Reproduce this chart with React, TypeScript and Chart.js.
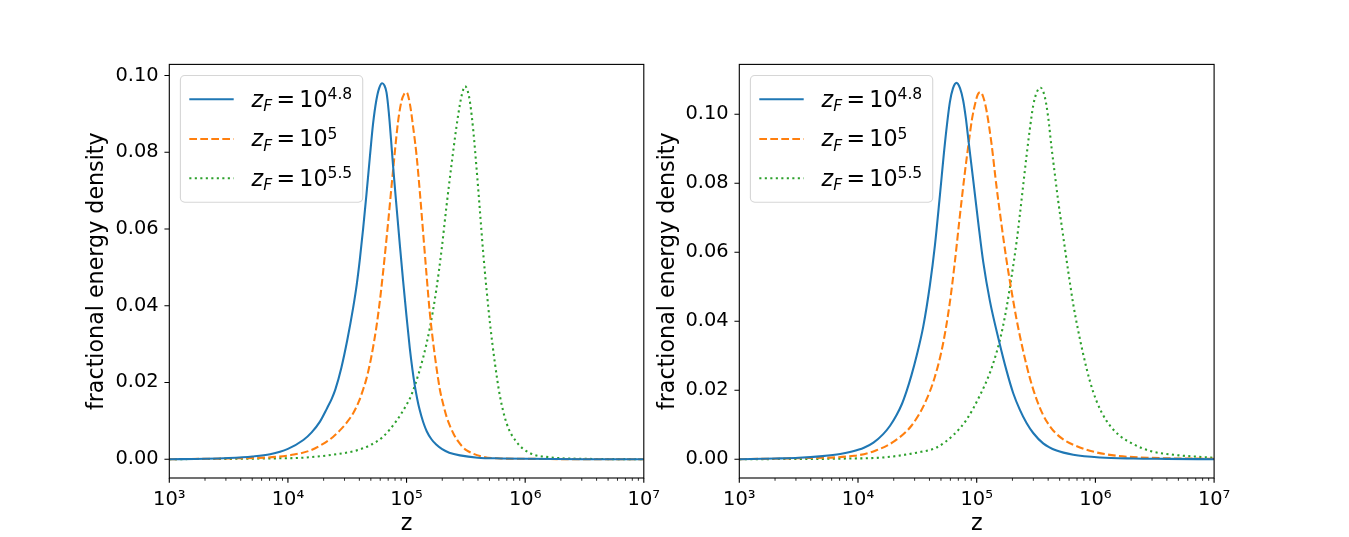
import React, { useEffect, useRef } from 'react';
import { Chart, registerables } from 'chart.js';

Chart.register(...registerables);

// ---------------- data ----------------
// x values are log10(z); y values are fractional energy density

// left panel
const leftBlueLogZ = [3.0, 3.3, 3.5, 3.7, 3.85, 4.0, 4.13, 4.2, 4.27, 4.33, 4.37, 4.4, 4.45, 4.5, 4.55, 4.58, 4.606, 4.634, 4.662, 4.69, 4.718, 4.745, 4.77, 4.795, 4.812, 4.831, 4.85, 4.87, 4.887, 4.915, 4.943, 4.971, 4.999, 5.027, 5.05, 5.069, 5.09, 5.111, 5.14, 5.17, 5.21, 5.25, 5.3, 5.36, 5.45, 5.6, 5.8, 6.0, 6.5, 7.0];
const leftBlueY = [0.0, 0.0001, 0.0003, 0.0007, 0.0013, 0.0027, 0.005, 0.007, 0.0098, 0.0133, 0.0158, 0.0182, 0.0238, 0.031, 0.0395, 0.0455, 0.052, 0.0601, 0.069, 0.0785, 0.0875, 0.0935, 0.0968, 0.098, 0.0975, 0.0956, 0.0905, 0.083, 0.0762, 0.066, 0.056, 0.0465, 0.0375, 0.029, 0.0233, 0.0193, 0.0157, 0.0128, 0.0097, 0.0073, 0.0052, 0.0038, 0.0026, 0.0017, 0.001, 0.0004, 0.0002, 0.0001, 0.0, 0.0];

const leftOrangeLogZ = [3.0, 3.5, 3.9, 4.05, 4.19, 4.28, 4.38, 4.45, 4.5, 4.55, 4.6, 4.63, 4.662, 4.7, 4.746, 4.774, 4.802, 4.844, 4.887, 4.929, 4.957, 4.98, 5.0, 5.027, 5.058, 5.085, 5.111, 5.14, 5.17, 5.195, 5.22, 5.254, 5.28, 5.31, 5.34, 5.364, 5.4, 5.434, 5.47, 5.507, 5.65, 5.79, 6.0, 6.5, 7.0];
const leftOrangeY = [0.0, 0.0002, 0.0006, 0.0012, 0.0023, 0.0037, 0.0058, 0.0079, 0.0097, 0.012, 0.0152, 0.0178, 0.021, 0.0262, 0.0345, 0.041, 0.0487, 0.0615, 0.0755, 0.0881, 0.0933, 0.0952, 0.0956, 0.0928, 0.086, 0.079, 0.07, 0.059, 0.0475, 0.0385, 0.0315, 0.0235, 0.0183, 0.0142, 0.0108, 0.0088, 0.0064, 0.0047, 0.0033, 0.0023, 0.0006, 0.0002, 0.0001, 0.0, 0.0];

const leftGreenLogZ = [3.0, 3.85, 4.13, 4.41, 4.58, 4.69, 4.8, 4.915, 5.0, 5.035, 5.07, 5.14, 5.195, 5.25, 5.295, 5.335, 5.378, 5.42, 5.45, 5.47, 5.493, 5.515, 5.535, 5.563, 5.591, 5.619, 5.647, 5.675, 5.703, 5.745, 5.787, 5.844, 5.927, 6.04, 6.21, 6.5, 7.0];
const leftGreenY = [0.0, 0.0002, 0.0004, 0.0013, 0.0023, 0.0036, 0.0058, 0.01, 0.0142, 0.0163, 0.0192, 0.0265, 0.034, 0.044, 0.0545, 0.0655, 0.0765, 0.0865, 0.0925, 0.0955, 0.0972, 0.096, 0.093, 0.0855, 0.0755, 0.0645, 0.0535, 0.044, 0.0355, 0.025, 0.0165, 0.0093, 0.0045, 0.0016, 0.0005, 0.0001, 0.0];

// right panel
const rightBlueLogZ = [3.0, 3.3, 3.5, 3.7, 3.85, 3.95, 4.05, 4.13, 4.21, 4.27, 4.325, 4.37, 4.41, 4.45, 4.494, 4.55, 4.606, 4.648, 4.69, 4.732, 4.774, 4.8, 4.83, 4.86, 4.886, 4.908, 4.932, 4.971, 5.013, 5.055, 5.111, 5.19, 5.252, 5.307, 5.364, 5.42, 5.476, 5.56, 5.673, 5.813, 6.04, 6.32, 6.6, 7.0];
const rightBlueY = [0.0, 0.0002, 0.0004, 0.0009, 0.0015, 0.0022, 0.0033, 0.0048, 0.0072, 0.0097, 0.0128, 0.016, 0.0198, 0.0243, 0.03, 0.0385, 0.0505, 0.062, 0.0765, 0.0915, 0.1035, 0.1075, 0.1091, 0.1075, 0.104, 0.099, 0.092, 0.0808, 0.0686, 0.0572, 0.0459, 0.034, 0.0256, 0.0192, 0.0143, 0.0105, 0.0076, 0.0046, 0.0025, 0.0013, 0.0005, 0.0002, 0.0001, 0.0];

const rightOrangeLogZ = [3.0, 3.5, 3.97, 4.14, 4.31, 4.45, 4.56, 4.646, 4.716, 4.772, 4.814, 4.857, 4.899, 4.932, 4.96, 4.99, 5.01, 5.03, 5.055, 5.083, 5.125, 5.167, 5.209, 5.252, 5.285, 5.336, 5.392, 5.448, 5.5, 5.56, 5.62, 5.673, 5.74, 5.813, 5.98, 6.18, 6.46, 7.0];
const rightOrangeY = [0.0, 0.0003, 0.001, 0.0024, 0.0053, 0.0097, 0.016, 0.0237, 0.0334, 0.045, 0.0566, 0.0702, 0.0827, 0.0916, 0.0985, 0.1035, 0.1058, 0.1064, 0.105, 0.101, 0.0914, 0.079, 0.068, 0.0575, 0.0505, 0.0405, 0.0313, 0.0235, 0.0178, 0.0128, 0.0094, 0.0073, 0.0055, 0.0042, 0.0022, 0.001, 0.0004, 0.0001];

const rightGreenLogZ = [3.0, 3.93, 4.21, 4.494, 4.662, 4.803, 4.915, 5.027, 5.111, 5.15, 5.19, 5.22, 5.252, 5.294, 5.336, 5.364, 5.392, 5.42, 5.448, 5.476, 5.504, 5.538, 5.574, 5.602, 5.63, 5.658, 5.686, 5.714, 5.742, 5.77, 5.813, 5.855, 5.897, 5.953, 6.009, 6.094, 6.206, 6.318, 6.459, 6.655, 7.0];
const rightGreenY = [0.0, 0.0002, 0.0005, 0.0019, 0.0034, 0.007, 0.0115, 0.0185, 0.025, 0.029, 0.0338, 0.0383, 0.044, 0.053, 0.063, 0.071, 0.0795, 0.088, 0.0958, 0.1025, 0.1062, 0.1077, 0.105, 0.0992, 0.0905, 0.0827, 0.075, 0.0682, 0.0614, 0.0547, 0.045, 0.0373, 0.0305, 0.0227, 0.0169, 0.0111, 0.0068, 0.0044, 0.0024, 0.0013, 0.0004];

// legend / series
const seriesExponents = ['4.8', '5', '5.5'];
const seriesColors = ['#1f77b4', '#ff7f0e', '#2ca02c'];
const seriesDashes: number[][] = [[], [7.7, 3.3], [2.1, 3.4]];

// axes
const xTickValues = [1e3, 1e4, 1e5, 1e6, 1e7];
const xTickLabels = ['10³', '10⁴', '10⁵', '10⁶', '10⁷'];
const xMinorMultipliers = [2, 3, 4, 5, 6, 7, 8, 9];
const yTickValues = [0, 0.02, 0.04, 0.06, 0.08, 0.1];
const leftYRange = [-0.0049, 0.1029];
const rightYRange = [-0.00545, 0.11445];
const xLabel = 'z';
const yLabel = 'fractional energy density';

// ---------------- layout / style constants ----------------
const FONT = '"DejaVu Sans", "Liberation Sans", sans-serif';
const FIG_W = 1349;
const FIG_H = 537;
const AX_TOP = 64.4;
const AX_BOTTOM = 478;
const PANELS = [
  { left: 169.3, right: 643.8, yTitleX: 97.5 },
  { left: 739.3, right: 1214.1, yTitleX: 667.8 },
];
const TICK_FS = 19.4;
const LABEL_FS = 22.2;
const LEGEND_FS = 22.2;
const LEGEND_ROW_Y = [23.8, 63.5, 102.8];

const leftSeries = [
  { logZ: leftBlueLogZ, y: leftBlueY },
  { logZ: leftOrangeLogZ, y: leftOrangeY },
  { logZ: leftGreenLogZ, y: leftGreenY },
];
const rightSeries = [
  { logZ: rightBlueLogZ, y: rightBlueY },
  { logZ: rightOrangeLogZ, y: rightOrangeY },
  { logZ: rightGreenLogZ, y: rightGreenY },
];

function toPoints(logZ: number[], ys: number[]) {
  return logZ.map((lz, i) => ({ x: Math.pow(10, lz), y: ys[i] }));
}

const axesDecor = {
  id: 'axesDecor',
  afterDatasetsDraw(chart: any) {
    const { ctx, chartArea: ca, scales } = chart;
    const xs = scales.x;
    const ys = scales.y;
    ctx.save();
    ctx.strokeStyle = '#000';
    ctx.setLineDash([]);
    // major ticks
    ctx.lineWidth = 1.11;
    ctx.beginPath();
    for (const v of xTickValues) {
      const px = xs.getPixelForValue(v);
      ctx.moveTo(px, ca.bottom);
      ctx.lineTo(px, ca.bottom + 4.86);
    }
    for (const v of yTickValues) {
      const py = ys.getPixelForValue(v);
      ctx.moveTo(ca.left, py);
      ctx.lineTo(ca.left - 4.86, py);
    }
    ctx.stroke();
    // minor ticks (log axis)
    ctx.lineWidth = 0.83;
    ctx.beginPath();
    for (let d = 0; d < xTickValues.length - 1; d++) {
      for (const k of xMinorMultipliers) {
        const px = xs.getPixelForValue(k * xTickValues[d]);
        ctx.moveTo(px, ca.bottom);
        ctx.lineTo(px, ca.bottom + 2.78);
      }
    }
    ctx.stroke();
    // frame
    ctx.lineWidth = 1.11;
    ctx.strokeRect(ca.left, ca.top, ca.right - ca.left, ca.bottom - ca.top);
    ctx.restore();
  },
};

function roundRectPath(ctx: CanvasRenderingContext2D, x: number, y: number, w: number, h: number, r: number) {
  ctx.beginPath();
  ctx.moveTo(x + r, y);
  ctx.lineTo(x + w - r, y);
  ctx.arcTo(x + w, y, x + w, y + r, r);
  ctx.lineTo(x + w, y + h - r);
  ctx.arcTo(x + w, y + h, x + w - r, y + h, r);
  ctx.lineTo(x + r, y + h);
  ctx.arcTo(x, y + h, x, y + h - r, r);
  ctx.lineTo(x, y + r);
  ctx.arcTo(x, y, x + r, y, r);
  ctx.closePath();
}

const mathLegend = {
  id: 'mathLegend',
  afterDraw(chart: any) {
    const { ctx, chartArea: ca } = chart;
    const fs = LEGEND_FS;
    const ss = fs * 0.7;
    const mainFont = `${fs}px ${FONT}`;
    const italFont = `italic ${fs}px ${FONT}`;
    const subFont = `italic ${ss}px ${FONT}`;
    const supFont = `${ss}px ${FONT}`;
    ctx.save();
    const measure = (f: string, t: string) => {
      ctx.font = f;
      return ctx.measureText(t).width;
    };
    const wz = measure(italFont, 'z');
    const wF = measure(subFont, 'F');
    const wEq = measure(mainFont, '=');
    const w10 = measure(mainFont, '10');
    const gap = 4.3;
    const widths = seriesExponents.map((e) => wz + wF + gap + wEq + gap + w10 + measure(supFont, e));
    const maxW = Math.max(...widths);
    const pad = 8.9;
    const handleLen = 44.4;
    const handlePad = 17.8;
    const bx = ca.left + 11.1;
    const by = ca.top + 11.1;
    const bw = pad + handleLen + handlePad + maxW + pad + 1.6;
    const bh = 126.7;
    roundRectPath(ctx, bx, by, bw, bh, 4.4);
    ctx.fillStyle = 'rgba(255,255,255,0.8)';
    ctx.fill();
    ctx.strokeStyle = 'rgba(204,204,204,0.8)';
    ctx.lineWidth = 1.11;
    ctx.stroke();

    chart.data.datasets.forEach((ds: any, i: number) => {
      const cy = by + LEGEND_ROW_Y[i];
      ctx.save();
      ctx.strokeStyle = ds.borderColor;
      ctx.lineWidth = ds.borderWidth;
      ctx.setLineDash(ds.borderDash || []);
      ctx.lineCap = 'butt';
      ctx.beginPath();
      ctx.moveTo(bx + pad, cy);
      ctx.lineTo(bx + pad + handleLen, cy);
      ctx.stroke();
      ctx.restore();

      const base = cy + 7.4;
      let x = bx + pad + handleLen + handlePad;
      ctx.fillStyle = '#000';
      ctx.textBaseline = 'alphabetic';
      ctx.textAlign = 'left';
      ctx.font = italFont;
      ctx.fillText('z', x, base);
      x += wz;
      ctx.font = subFont;
      ctx.fillText('F', x, base + 4.3);
      x += wF + gap;
      ctx.font = mainFont;
      ctx.fillText('=', x, base);
      x += wEq + gap;
      ctx.fillText('10', x, base);
      x += w10;
      ctx.font = supFont;
      ctx.fillText(seriesExponents[i], x, base - 7.4);
    });
    ctx.restore();
  },
};

function makeConfig(p: number): any {
  const geom = PANELS[p];
  const series = p === 0 ? leftSeries : rightSeries;
  const yRange = p === 0 ? leftYRange : rightYRange;
  return {
    type: 'line',
    data: {
      datasets: series.map((s, i) => ({
        label: `z_F = 10^${seriesExponents[i]}`,
        data: toPoints(s.logZ, s.y),
        borderColor: seriesColors[i],
        backgroundColor: seriesColors[i],
        borderWidth: 2.08,
        borderDash: seriesDashes[i],
        borderCapStyle: 'butt',
        borderJoinStyle: 'round',
        pointRadius: 0,
        pointHoverRadius: 0,
        fill: false,
        cubicInterpolationMode: 'monotone',
      })),
    },
    options: {
      responsive: false,
      animation: false,
      events: [],
      layout: { padding: { left: 0, top: AX_TOP, right: FIG_W - geom.right, bottom: 0 } },
      plugins: { legend: { display: false }, tooltip: { enabled: false } },
      scales: {
        x: {
          type: 'logarithmic',
          min: 1e3,
          max: 1e7,
          afterBuildTicks: (scale: any) => {
            scale.ticks = xTickValues.map((v) => ({ value: v, major: true }));
          },
          afterFit: (scale: any) => {
            scale.height = FIG_H - AX_BOTTOM;
          },
          grid: { display: false, drawTicks: false, tickLength: 0 },
          border: { display: false },
          ticks: {
            autoSkip: false,
            maxRotation: 0,
            minRotation: 0,
            padding: 10,
            color: '#000',
            font: { family: FONT, size: TICK_FS },
            callback: (v: any) => {
              const idx = xTickValues.indexOf(Number(v));
              return idx >= 0 ? xTickLabels[idx] : '';
            },
          },
          title: {
            display: true,
            text: xLabel,
            color: '#000',
            font: { family: FONT, size: LABEL_FS, lineHeight: 1.117 },
            padding: 0,
          },
        },
        y: {
          type: 'linear',
          min: yRange[0],
          max: yRange[1],
          afterBuildTicks: (scale: any) => {
            scale.ticks = yTickValues.map((v) => ({ value: v }));
          },
          afterFit: (scale: any) => {
            scale.width = geom.left;
          },
          grid: { display: false, drawTicks: false, tickLength: 0 },
          border: { display: false },
          ticks: {
            padding: 10.7,
            color: '#000',
            font: { family: FONT, size: TICK_FS },
            callback: (v: any) => Number(v).toFixed(2),
          },
          title: {
            display: true,
            text: yLabel,
            color: '#000',
            font: { family: FONT, size: LABEL_FS, lineHeight: 1.2 },
            padding: { top: geom.yTitleX - (LABEL_FS * 1.2) / 2, bottom: 0 },
          },
        },
      },
    },
    plugins: [axesDecor, mathLegend],
  };
}

export default function App() {
  const leftRef = useRef<HTMLCanvasElement>(null);
  const rightRef = useRef<HTMLCanvasElement>(null);

  useEffect(() => {
    const charts: Chart[] = [];
    if (leftRef.current) charts.push(new Chart(leftRef.current, makeConfig(0)));
    if (rightRef.current) charts.push(new Chart(rightRef.current, makeConfig(1)));
    return () => charts.forEach((c) => c.destroy());
  }, []);

  const canvasStyle: React.CSSProperties = {
    position: 'absolute',
    left: 0,
    top: 0,
    width: FIG_W,
    height: FIG_H,
    display: 'block',
  };

  return (
    <div style={{ position: 'absolute', left: 0, top: 0, width: FIG_W, height: FIG_H, background: '#fff', overflow: 'hidden' }}>
      <canvas ref={leftRef} width={FIG_W} height={FIG_H} style={canvasStyle} />
      <canvas ref={rightRef} width={FIG_W} height={FIG_H} style={canvasStyle} />
    </div>
  );
}
